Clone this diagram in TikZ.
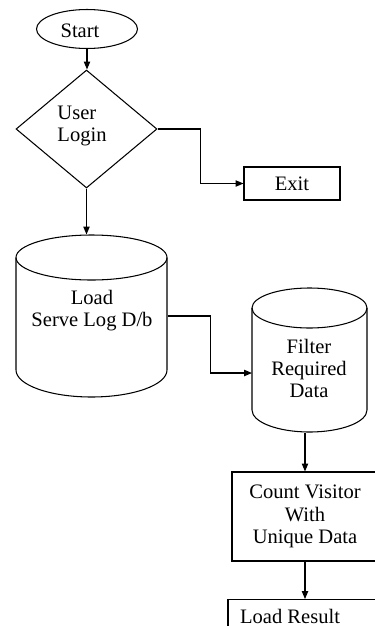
\documentclass[tikz,border=0pt]{standalone}
\usepackage{fontspec}
\setmainfont{Liberation Serif}
\usetikzlibrary{shapes.geometric,arrows.meta}
\begin{document}
\begin{tikzpicture}[x=0.02cm,y=-0.02cm, line width=0.6pt,
  lbl/.style={font=\fontsize{11.7}{12.6}\selectfont, align=center, inner sep=0},
  arr/.style={-{Triangle[length=4.5pt,width=3.6pt]}},
  box/.style={draw, rectangle, inner sep=0, lbl}]
\useasboundingbox (0,0) rectangle (375,626);
\clip (0,0) rectangle (375,626);

% Start
\node[draw, ellipse, minimum width=2.02cm, minimum height=0.78cm, inner sep=0] (start) at (87,29) {};
\node[lbl] (starttxt) at (80,31) {Start};

% User login decision
\node[draw, diamond, minimum width=2.82cm, minimum height=2.36cm, inner sep=0] (login) at (86.5,129) {};
\node[lbl, align=left] (logintxt) at (82,126) {User\\Login};

% Exit
\node[box, minimum width=1.92cm, minimum height=0.66cm] (exit) at (292,183.5) {Exit};

% Cylinder 1
\node[minimum width=3.02cm, minimum height=3.24cm, inner sep=0] (cyl1) at (91.5,316) {};
\draw (91.5,257.5) ellipse [x radius=75.5, y radius=22.5];
\draw (16,257.5) -- (16,370) arc[start angle=180, end angle=0, x radius=75.5, y radius=27] -- (167,257.5);
\node[lbl] (cyl1txt) at (92,311) {Load\\Serve Log D/b};

% Cylinder 2
\node[minimum width=2.3cm, minimum height=2.88cm, inner sep=0] (cyl2) at (309.5,360) {};
\draw (309.5,308) ellipse [x radius=57.5, y radius=20];
\draw (252,308) -- (252,410) arc[start angle=180, end angle=0, x radius=57.5, y radius=22] -- (367,308);
\node[lbl] (cyl2txt) at (309,368.5) {Filter\\Required\\Data};
\coordinate (c2in) at (252,373);

% Count visitor
\node[box, minimum width=2.92cm, minimum height=1.78cm] (count) at (305,516.5) {Count Visitor\\With\\Unique Data};

% Load result
\node[draw, rectangle, inner sep=0, minimum width=3.08cm, minimum height=1.2cm, anchor=north] (result) at (305,599) {};
\node[lbl] (resulttxt) at (290,616) {Load Result};

% Connectors
\draw[arr] (start.south) -- (start.south |- login.north);
\draw[arr] (login.east) -- ++(43,0) |- (exit.west);
\draw[arr] (login.south) -- (login.south |- cyl1.north);
\draw[arr] (cyl1.east) -- ++(43,0) |- (c2in);
\draw[arr] (count.north |- cyl2.south) -- (count.north);
\draw[arr] (count.south) -- (result.north);
\end{tikzpicture}
\end{document}
